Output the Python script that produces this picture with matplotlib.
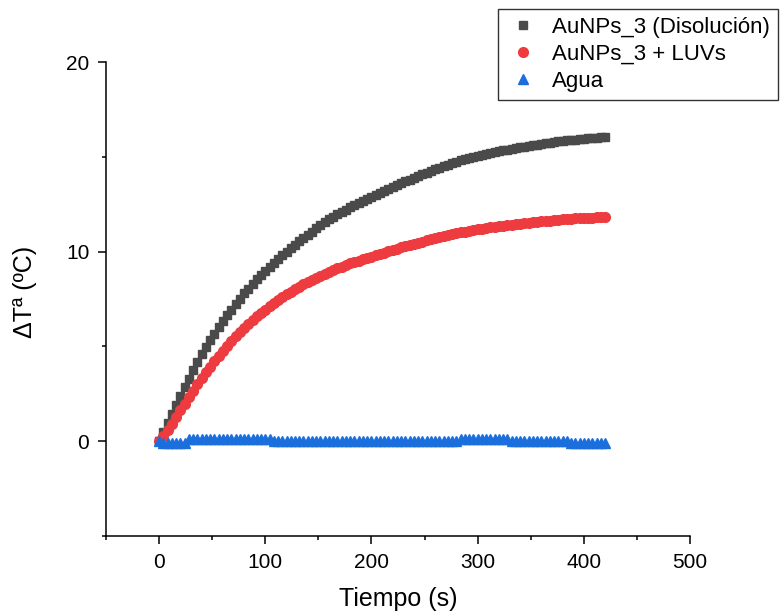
import matplotlib
matplotlib.use("Agg")
import matplotlib.pyplot as plt
from matplotlib.ticker import MultipleLocator

plt.rcParams['font.family'] = ['Liberation Sans', 'DejaVu Sans']

# time (s)
tiempo = list(range(0, 421, 4))

disolucion = [0.00, 0.50, 0.98, 1.46, 1.93, 2.40, 2.85, 3.29, 3.73, 4.17,
              4.60, 4.97, 5.32, 5.67, 6.01, 6.35, 6.65, 6.94, 7.23, 7.52,
              7.80, 8.05, 8.29, 8.53, 8.77, 9.00, 9.20, 9.40, 9.60, 9.80,
              10.00, 10.18, 10.36, 10.54, 10.72, 10.90, 11.06, 11.22, 11.38, 11.54,
              11.70, 11.83, 11.96, 12.09, 12.22, 12.35, 12.46, 12.57, 12.68, 12.79,
              12.90, 13.00, 13.10, 13.20, 13.30, 13.40, 13.50, 13.60, 13.70, 13.80,
              13.90, 13.99, 14.08, 14.17, 14.26, 14.35, 14.43, 14.51, 14.59, 14.67,
              14.75, 14.81, 14.87, 14.93, 14.99, 15.05, 15.10, 15.15, 15.20, 15.25,
              15.30, 15.34, 15.38, 15.42, 15.46, 15.50, 15.54, 15.57, 15.61, 15.64,
              15.68, 15.71, 15.75, 15.78, 15.82, 15.85, 15.87, 15.89, 15.91, 15.93,
              15.95, 15.97, 15.99, 16.01, 16.03, 16.05]

luvs = [0.00, 0.28, 0.60, 0.93, 1.27, 1.62, 1.97, 2.32, 2.67, 3.00,
        3.33, 3.63, 3.93, 4.22, 4.50, 4.78, 5.04, 5.29, 5.53, 5.76,
        5.98, 6.19, 6.39, 6.58, 6.76, 6.94, 7.11, 7.28, 7.44, 7.60,
        7.75, 7.89, 8.02, 8.15, 8.28, 8.40, 8.51, 8.62, 8.73, 8.84,
        8.94, 9.03, 9.12, 9.21, 9.30, 9.38, 9.45, 9.52, 9.59, 9.66,
        9.73, 9.80, 9.87, 9.94, 10.01, 10.08, 10.15, 10.22, 10.29, 10.35,
        10.41, 10.47, 10.53, 10.59, 10.65, 10.71, 10.76, 10.81, 10.86, 10.91,
        10.96, 11.01, 11.05, 11.09, 11.13, 11.17, 11.21, 11.25, 11.28, 11.31,
        11.34, 11.37, 11.40, 11.43, 11.46, 11.48, 11.51, 11.53, 11.56, 11.58,
        11.60, 11.62, 11.64, 11.66, 11.68, 11.70, 11.72, 11.73, 11.75, 11.76,
        11.77, 11.78, 11.79, 11.80, 11.81, 11.82]

agua = ([0.0] + [-0.1] * 6 + [0.1] * 20 + [0.0] * 44 + [0.1] * 12
        + [0.0] * 14 + [-0.1] * 9)

labels = ["AuNPs_3 (Disolución)", "AuNPs_3 + LUVs", "Agua"]
colors = ["#4a4a4a", "#ee3b3f", "#1b6fdc"]

fig = plt.figure(figsize=(7.8, 6.13), dpi=100)

ax = fig.add_axes([0.1359, 0.1256, 0.7487, 0.7732])

ax.plot(tiempo, disolucion, ls="none", marker="s", ms=6.3, color=colors[0],
        label=labels[0], zorder=3)
ax.plot(tiempo, luvs, ls="none", marker="o", ms=7, color=colors[1],
        label=labels[1], zorder=4)
ax.plot(tiempo, agua, ls="none", marker="^", ms=7.8, color=colors[2],
        label=labels[2], zorder=5)

ax.set_xlim(-50, 500)
ax.set_ylim(-5, 20)
ax.xaxis.set_major_locator(MultipleLocator(100))
ax.xaxis.set_minor_locator(MultipleLocator(50))
ax.yaxis.set_major_locator(MultipleLocator(10))
ax.yaxis.set_minor_locator(MultipleLocator(5))

for s in ["top", "right"]:
    ax.spines[s].set_visible(False)
for s in ["left", "bottom"]:
    ax.spines[s].set_linewidth(1.1)

ax.tick_params(which="major", direction="out", length=6, width=1.1,
               labelsize=15, pad=6)
ax.tick_params(which="minor", direction="out", length=3, width=1.1)

ax.set_xlabel("Tiempo (s)", fontsize=18, labelpad=11)
ax.set_ylabel("ΔTª (ºC)", fontsize=18)
ax.yaxis.set_label_coords(-0.118, 0.515)

leg = fig.legend(loc="upper right", bbox_to_anchor=(0.9974, 0.9853),
                 fontsize=16, frameon=True, fancybox=False,
                 borderpad=0.35, handletextpad=0.5, labelspacing=0.27,
                 handlelength=1.6, borderaxespad=0.0)
leg.get_frame().set_edgecolor("black")
leg.get_frame().set_linewidth(1.0)

fig.savefig("out.png", dpi=100)
